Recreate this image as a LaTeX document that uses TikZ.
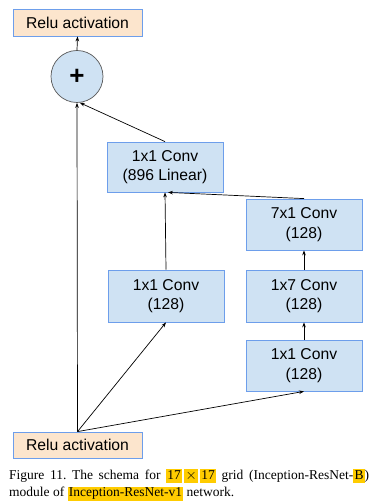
\documentclass[tikz,border=0pt]{standalone}
\usepackage{fontspec}
\setmainfont{Liberation Serif}
\newfontfamily\diafont{Liberation Sans}
\usetikzlibrary{arrows.meta,calc}
\definecolor{boxblue}{HTML}{CFE2F3}
\definecolor{boxedge}{HTML}{6D9EEB}
\definecolor{relufill}{HTML}{FCE5CD}
\definecolor{circedge}{HTML}{595959}
\definecolor{hl}{HTML}{FFCC00}
\newcommand\hlt[1]{{\setlength\fboxsep{1.2pt}\colorbox{hl}{\vphantom{Iy}#1}}}
\begin{document}
\begin{tikzpicture}[x=1pt,y=-1pt,
  convbox/.style={draw=boxedge,fill=boxblue,line width=0.8pt,minimum width=116pt,minimum height=51pt,align=center,font=\diafont\fontsize{15.7}{19.6}\selectfont,inner sep=0pt},
  relubox/.style={draw=boxedge,fill=relufill,line width=0.8pt,minimum width=129pt,minimum height=27pt,font=\diafont\fontsize{15.7}{19.6}\selectfont,inner sep=0pt},
  sumnode/.style={circle,draw=circedge,fill=boxblue,line width=0.7pt,minimum size=52pt,inner sep=0pt,font=\diafont\bfseries\fontsize{26}{26}\selectfont},
  conn/.style={line width=0.7pt,-{Stealth[length=5pt,width=3.6pt]}}]
\useasboundingbox[fill=white] (0,0) rectangle (374,502);
\node[relubox] (relutop) at (77.5,22.5) {Relu activation};
\node[sumnode] (plus) at (77,76.5) {+};
\node[convbox,minimum height=50pt] (lin) at (165,167) {1x1 Conv\\(896 Linear)};
\node[convbox] (c71) at (304,224.5) {7x1 Conv\\(128)};
\node[convbox,minimum height=52pt] (l1) at (166,296) {1x1 Conv\\(128)};
\node[convbox,minimum height=52pt] (c17) at (304,296) {1x7 Conv\\(128)};
\node[convbox] (r1) at (304,365.5) {1x1 Conv\\(128)};
\node[relubox,minimum height=26pt] (relubot) at (77.5,445) {Relu activation};
\draw[conn] (plus.north) -- (relutop.south);
\draw[conn] (relubot.north) -- (plus.south);
\draw[conn] (lin.north) -- (plus.-84);
\draw[conn] (l1.north) -- (lin.south);
\draw[conn] (c71.north) -- ($(lin.south)+(3,0)$);
\draw[conn] (c17.north) -- (c71.south);
\draw[conn] (r1.north) -- (c17.south);
\draw[conn] (relubot.north) -- (l1.south);
\draw[conn] (relubot.north) -- (r1.south);
\node[anchor=north west,inner sep=0pt,text width=360pt,align=justify,font=\fontsize{13.5}{17.5}\selectfont\frenchspacing] (cap) at (9,469)
 {Figure 11. The schema for \hlt{17}\,\hlt{$\times$}\,\hlt{17} grid (Inception-ResNet-\hlt{B})\linebreak module of \hlt{Inception-ResNet-v1} network.};
\end{tikzpicture}
\end{document}
